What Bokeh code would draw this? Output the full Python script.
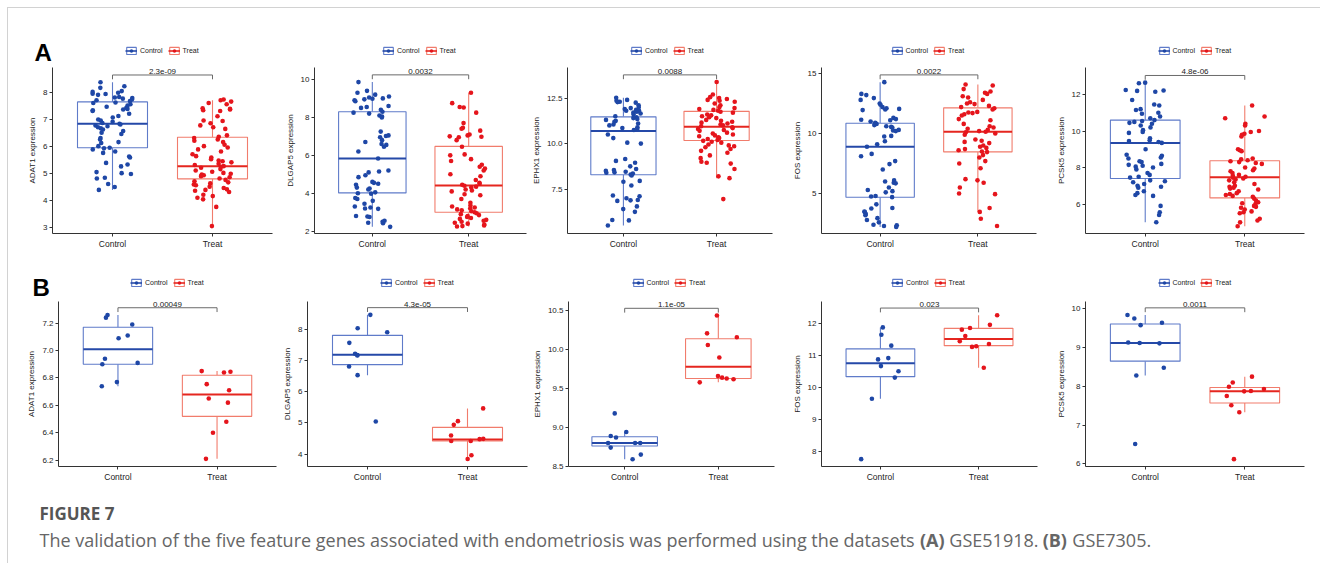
from bokeh.plotting import figure
from bokeh.models import (Range1d, FixedTicker, Legend, LegendItem, Label,
                          ColumnDataSource, PrintfTickFormatter, Spacer)
from bokeh.layouts import row, column
from bokeh.transform import jitter
from bokeh.core.properties import value
from bokeh.embed import file_html
from bokeh.resources import INLINE
import numpy as np

# ------------------------------------------------------------------ data
GENES = ["ADAT1", "DLGAP5", "EPHX1", "FOS", "PCSK5"]
GROUPS = ["Control", "Treat"]
PANEL_TAGS = ["A", "B"]

# ---- (A) GSE51918
A1_ctrl = [8.37, 8.22, 8.16, 8.04, 8.01, 7.98, 7.94, 7.93, 7.90, 7.82, 7.80, 7.78, 7.76, 7.73, 7.70,
           7.67, 7.62, 7.60, 7.55, 7.50, 7.46, 7.42, 7.38, 7.36, 7.33, 7.30, 7.20, 7.12, 7.06, 6.99,
           6.95, 6.90, 6.86, 6.83, 6.80, 6.77, 6.74, 6.70, 6.66, 6.62, 6.56, 6.50, 6.45, 6.30, 6.25,
           6.15, 6.12, 6.00, 5.94, 5.92, 5.88, 5.80, 5.75, 5.62, 5.58, 5.38, 5.32, 5.25, 5.04, 5.00,
           4.97, 4.83, 4.80, 4.60, 4.49, 4.38]
A1_treat = [7.73, 7.70, 7.65, 7.60, 7.55, 7.40, 7.38, 7.36, 7.33, 7.30, 7.11, 6.95, 6.93, 6.85, 6.77,
            6.70, 6.64, 6.40, 6.35, 6.30, 6.25, 6.20, 6.15, 6.05, 6.00, 5.95, 5.88, 5.80, 5.70, 5.63,
            5.58, 5.52, 5.47, 5.44, 5.40, 5.35, 5.30, 5.26, 5.24, 5.20, 5.15, 5.10, 5.05, 5.01, 4.98,
            4.95, 4.92, 4.89, 4.85, 4.80, 4.75, 4.70, 4.66, 4.62, 4.58, 4.55, 4.50, 4.45, 4.40, 4.38,
            4.35, 4.30, 4.20, 4.15, 4.09, 4.03, 3.75, 3.04]
A2_ctrl = [9.86, 9.40, 9.30, 9.20, 9.10, 9.05, 9.00, 8.98, 8.95, 8.90, 8.85, 8.60, 8.55, 8.50, 8.40,
           8.30, 8.25, 8.20, 8.10, 8.05, 8.00, 7.25, 7.05, 7.02, 6.95, 6.80, 6.70, 6.60, 6.55, 6.45,
           6.20, 5.83, 5.20, 5.15, 5.10, 4.95, 4.85, 4.60, 4.55, 4.50, 4.45, 4.30, 4.25, 4.20, 4.05,
           4.00, 3.98, 3.75, 3.70, 3.60, 3.45, 3.30, 3.25, 3.20, 3.18, 2.80, 2.78, 2.75, 2.55, 2.50,
           2.45, 2.42, 2.23]
A2_treat = [9.30, 8.75, 8.55, 8.52, 8.25, 7.70, 7.45, 7.40, 7.30, 7.10, 7.05, 7.00, 6.98, 6.95, 6.80,
            6.45, 6.05, 6.00, 5.80, 5.70, 5.50, 5.40, 5.30, 5.20, 5.00, 4.90, 4.70, 4.55, 4.50, 4.45,
            4.40, 4.35, 4.30, 4.20, 4.15, 4.10, 3.95, 3.90, 3.70, 3.50, 3.35, 3.30, 3.25, 3.20, 3.15,
            3.10, 3.05, 3.00, 2.95, 2.90, 2.85, 2.80, 2.75, 2.70, 2.65, 2.60, 2.55, 2.50, 2.45, 2.40,
            2.35, 2.30, 2.27, 2.25]
A3_ctrl = [12.52, 12.40, 12.35, 12.30, 12.28, 12.25, 12.10, 12.00, 11.95, 11.90, 11.85, 11.80, 11.80,
           11.75, 11.70, 11.65, 11.60, 11.50, 11.45, 11.40, 11.35, 11.30, 11.25, 11.20, 11.10, 11.05,
           11.00, 10.90, 10.85, 10.80, 10.75, 10.50, 10.30, 10.05, 10.00, 9.15, 9.05, 8.95, 8.75, 8.60,
           8.55, 8.50, 8.45, 8.42, 8.40, 8.35, 8.30, 8.25, 7.95, 7.90, 7.70, 7.15, 7.10, 7.00, 6.90,
           6.88, 6.85, 6.55, 6.40, 6.25, 5.80, 5.78, 5.50]
A3_treat = [13.38, 12.70, 12.55, 12.50, 12.45, 12.40, 12.35, 12.30, 12.20, 12.10, 12.00, 11.95, 11.90,
            11.85, 11.80, 11.75, 11.70, 11.60, 11.55, 11.50, 11.45, 11.40, 11.30, 11.25, 11.20, 11.15,
            11.10, 11.05, 11.00, 10.95, 10.90, 10.85, 10.80, 10.75, 10.70, 10.60, 10.55, 10.50, 10.45,
            10.40, 10.35, 10.30, 10.25, 10.20, 10.15, 10.10, 10.05, 9.95, 9.90, 9.85, 9.80, 9.70, 9.60,
            9.50, 9.35, 9.20, 9.00, 8.95, 8.90, 8.60, 8.20, 8.10, 6.95]
A4_ctrl = [14.28, 13.30, 13.20, 12.95, 12.80, 12.50, 12.40, 12.20, 12.10, 12.05, 12.00, 11.95, 11.30,
           11.20, 11.15, 11.10, 11.00, 10.90, 10.80, 10.70, 10.60, 10.55, 10.50, 10.30, 10.25, 10.20,
           9.80, 9.75, 9.35, 9.10, 8.90, 8.30, 8.10, 7.70, 7.45, 7.00, 6.10, 6.00, 5.90, 5.85, 5.50,
           5.30, 5.20, 5.10, 4.80, 4.75, 4.70, 4.10, 3.80, 3.75, 3.50, 3.45, 3.30, 3.20, 2.95, 2.80,
           2.60, 2.40, 2.35, 2.30, 2.22]
A4_treat = [14.08, 14.00, 13.70, 13.50, 13.40, 13.30, 13.10, 13.00, 12.80, 12.60, 12.50, 12.45, 12.30,
            12.20, 12.10, 12.00, 11.80, 11.75, 11.70, 11.60, 11.50, 11.20, 11.10, 10.80, 10.60, 10.50,
            10.40, 10.30, 10.20, 10.15, 10.10, 10.00, 9.90, 9.50, 9.40, 9.30, 9.20, 9.00, 8.90, 8.80,
            8.70, 8.60, 8.50, 8.45, 8.20, 8.00, 7.70, 7.50, 7.10, 6.20, 6.10, 5.90, 5.50, 5.00, 4.95,
            3.80, 3.47, 2.90, 2.30]
A5_ctrl = [12.65, 12.62, 12.25, 12.22, 12.20, 12.15, 11.70, 11.45, 11.40, 11.20, 11.15, 11.00, 10.95,
           10.80, 10.70, 10.60, 10.55, 10.50, 10.45, 10.40, 10.30, 10.20, 10.05, 9.95, 9.90, 9.60,
           9.50, 9.45, 9.40, 9.35, 9.00, 8.70, 8.65, 8.55, 8.50, 8.35, 8.30, 8.20, 8.15, 8.10, 8.05,
           8.00, 7.90, 7.70, 7.60, 7.50, 7.45, 7.30, 7.25, 7.20, 7.10, 7.00, 6.95, 6.90, 6.70, 6.60,
           6.50, 6.45, 5.90, 5.55, 5.40, 5.01]
A5_treat = [11.40, 10.80, 10.70, 10.40, 10.30, 10.00, 9.95, 9.85, 9.80, 9.70, 9.00, 8.95, 8.90, 8.50,
            8.45, 8.40, 8.35, 8.30, 8.25, 8.20, 8.00, 7.95, 7.85, 7.80, 7.70, 7.60, 7.55, 7.50, 7.45,
            7.40, 7.35, 7.30, 7.20, 7.10, 7.00, 6.95, 6.90, 6.85, 6.80, 6.70, 6.60, 6.55, 6.50, 6.45,
            6.40, 6.30, 6.20, 6.10, 6.05, 6.00, 5.90, 5.85, 5.80, 5.70, 5.60, 5.55, 5.50, 5.20, 5.10,
            5.00, 4.79]

# box statistics: [lower whisker, Q1, median, Q3, upper whisker]
A1_box_ctrl = [4.38, 5.94, 6.83, 7.64, 8.37]
A1_box_treat = [3.04, 4.79, 5.26, 6.33, 7.70]
A2_box_ctrl = [2.23, 4.02, 5.83, 8.30, 9.86]
A2_box_treat = [2.25, 3.00, 4.41, 6.47, 9.30]
A3_box_ctrl = [5.50, 8.29, 10.69, 11.47, 12.52]
A3_box_treat = [8.10, 10.17, 10.92, 11.77, 13.38]
A4_box_ctrl = [2.22, 4.69, 8.89, 10.86, 14.28]
A4_box_treat = [3.47, 8.47, 10.14, 12.14, 14.08]
A5_box_ctrl = [5.01, 7.40, 9.35, 10.60, 12.65]
A5_box_treat = [4.79, 6.34, 7.47, 8.37, 11.40]

A_PVALUES = ["2.3e-09", "0.0032", "0.0088", "0.0022", "4.8e-06"]

# ---- (B) GSE7305
B1_ctrl = [7.26, 7.24, 7.19, 7.11, 7.09, 6.94, 6.91, 6.90, 6.77, 6.74]
B1_treat = [6.85, 6.845, 6.84, 6.755, 6.71, 6.65, 6.62, 6.48, 6.40, 6.21]
B2_ctrl = [8.48, 8.05, 7.92, 7.58, 7.23, 7.19, 7.17, 6.82, 6.54, 5.05]
B2_treat = [5.47, 5.06, 4.94, 4.60, 4.49, 4.48, 4.42, 4.42, 3.96, 3.84]
B3_ctrl = [9.18, 8.94, 8.89, 8.87, 8.80, 8.80, 8.80, 8.74, 8.65, 8.59]
B3_treat = [10.44, 10.21, 10.16, 10.06, 9.90, 9.66, 9.64, 9.63, 9.62, 9.58]
B4_ctrl = [11.88, 11.65, 11.31, 10.92, 10.88, 10.67, 10.51, 10.31, 9.65, 7.76]
B4_treat = [12.26, 11.96, 11.86, 11.81, 11.61, 11.45, 11.36, 11.29, 11.27, 10.62]
B5_ctrl = [9.84, 9.75, 9.64, 9.58, 9.13, 9.12, 9.11, 8.48, 8.28, 6.51]
B5_treat = [8.25, 8.10, 7.99, 7.93, 7.88, 7.87, 7.75, 7.51, 7.33, 6.12]

B1_box_ctrl = [6.74, 6.90, 7.01, 7.17, 7.26]
B1_box_treat = [6.21, 6.52, 6.68, 6.82, 6.85]
B2_box_ctrl = [6.54, 6.88, 7.20, 7.82, 8.48]
B2_box_treat = [3.84, 4.42, 4.47, 4.86, 5.47]
B3_box_ctrl = [8.59, 8.76, 8.80, 8.88, 8.94]
B3_box_treat = [9.58, 9.63, 9.78, 10.14, 10.44]
B4_box_ctrl = [9.65, 10.34, 10.76, 11.21, 11.88]
B4_box_treat = [10.62, 11.31, 11.52, 11.85, 12.26]
B5_box_ctrl = [8.28, 8.65, 9.12, 9.61, 9.84]
B5_box_treat = [7.33, 7.57, 7.87, 7.97, 8.25]

B_PVALUES = ["0.00049", "4.3e-05", "1.1e-05", "0.023", "0.0011"]

# y tick values and label formats
A_TICKS = [[3, 4, 5, 6, 7, 8], [2, 4, 6, 8, 10], [7.5, 10.0, 12.5], [5, 10, 15], [6, 8, 10, 12]]
A_TICK_FMT = ["%d", "%d", "%.1f", "%d", "%d"]
B_TICKS = [[6.2, 6.4, 6.6, 6.8, 7.0, 7.2], [4, 5, 6, 7, 8], [8.5, 9.0, 9.5, 10.0, 10.5],
           [8, 9, 10, 11, 12], [6, 7, 8, 9, 10]]
B_TICK_FMT = ["%.1f", "%d", "%.1f", "%d", "%d"]

CAPTION_HEAD = "FIGURE 7"
CAPTION_PARTS = ["The validation of the five feature genes associated with endometriosis was performed using the datasets ",
                 "(A)", " GSE51918. ", "(B)", " GSE7305."]

# ------------------------------------------------------------------ styles / layout
FONT = "Liberation Sans"
CTRL_PT, CTRL_BOX, CTRL_MED = "#1E47A6", "#5F7BC9", "#2549A8"
TREAT_PT, TREAT_BOX, TREAT_MED = "#E5151C", "#F17C6C", "#E5261F"
AXIS_COL = "#333333"
TEXT_COL = "#222222"
FULL_W = 1312

A_YRANGE = [(2.765, 8.914), (1.88, 10.63), (5.06, 14.18), (1.67, 15.5), (4.39, 13.48)]
B_YRANGE = [(6.154, 7.358), (3.60, 8.91), (8.497, 10.62), (7.53, 12.69), (5.93, 10.19)]
# (fig width, min_border_left, min_border_right)
A_GEOM = [(274, 44, 10), (246, 30, 2), (261, 34, 17), (260, 30, 13), (271, 36, 16)]
B_GEOM = [(271, 50, 3), (250, 28, 2), (260, 34, 15), (260, 30, 12), (271, 36, 16)]
# strip (legend band) height, panel height, panel top / bottom borders
A_STRIP, A_H, A_TOP, A_BOT = 58, 198, 1, 31
B_STRIP, B_H, B_TOP, B_BOT = 37, 193, 0, 28
A_LEG_CY, B_LEG_CY = 16, 18.3          # legend centre above strip bottom
A_TAG_XY, B_TAG_XY = (26, 14.5), (24, 14)
LEG_W, LEG_H = 74, 9

# approximate Open Sans advance widths (em) for placing caption pieces
_OS_REG = {" ": .26, "a": .556, "b": .613, "c": .476, "d": .613, "e": .561, "f": .339, "g": .548,
           "h": .614, "i": .253, "l": .253, "m": .930, "n": .614, "o": .604, "p": .613, "r": .408,
           "s": .477, "t": .353, "u": .614, "v": .501, "w": .778, "y": .502, "T": .544, "G": .706,
           "S": .55, "E": .541, ".": .266, "(": .297, ")": .297, "A": .633, "B": .648}
_OS_BOLD = {"(": .342, ")": .342, "A": .690, "B": .705}


def text_w(s, size, bold=False):
    tot = 0.0
    for ch in s:
        if ch.isdigit():
            tot += .572
        elif bold and ch in _OS_BOLD:
            tot += _OS_BOLD[ch]
        else:
            tot += _OS_REG.get(ch, .55)
    return tot * size


def blank_fig(w, h):
    f = figure(width=w, height=h, output_backend="svg", toolbar_location=None,
               x_range=Range1d(0, w), y_range=Range1d(0, h), min_border=0,
               x_axis_type=None, y_axis_type=None)
    f.outline_line_color = None
    f.xgrid.visible = False
    f.ygrid.visible = False
    f.border_fill_color = "white"
    f.background_fill_color = "white"
    return f


def make_strip(h, geoms, leg_cy, tag, tag_xy):
    s = blank_fig(FULL_W, h)
    keys = []
    nan = [float("nan")]
    for cbox, cmed, cpt in [(CTRL_BOX, CTRL_MED, CTRL_PT), (TREAT_BOX, TREAT_MED, TREAT_PT)]:
        # legend-key glyphs only (no visible marks: NaN coordinates)
        q = s.quad(left=nan, right=nan, bottom=nan, top=nan, fill_color="white",
                   line_color=cbox, line_width=1.1)
        m = s.segment(x0=nan, x1=nan, y0=nan, y1=nan, line_color=cmed, line_width=1.6)
        d = s.scatter(x=nan, y=nan, size=4, fill_color=cpt, line_color=None)
        keys.append([q, m, d])
    x0 = 0
    for (w, bl, br) in geoms:
        fw = w - bl - br
        cx = x0 + bl + fw / 2
        leg = Legend(items=[LegendItem(label=GROUPS[0], renderers=keys[0]),
                            LegendItem(label=GROUPS[1], renderers=keys[1])],
                     orientation="horizontal",
                     location=(cx - LEG_W / 2, leg_cy - LEG_H / 2),
                     margin=0, padding=0, spacing=5, label_standoff=3,
                     glyph_width=12, glyph_height=LEG_H, label_height=LEG_H,
                     label_text_font=FONT, label_text_font_size="7px",
                     label_text_color=TEXT_COL, border_line_color=None,
                     background_fill_alpha=0)
        s.add_layout(leg)
        x0 += w
    s.add_layout(Label(x=tag_xy[0], y=tag_xy[1], text=tag, text_font=FONT,
                       text_font_style="bold", text_font_size="24px", text_color="black",
                       text_align="left", text_baseline="alphabetic"))
    return s


def make_panel(gene, ctrl, treat, box_c, box_t, pval, ticks, fmt, yr, geom,
               height, top, bottom):
    w, bl, br = geom
    p = figure(width=w, height=height, output_backend="svg", toolbar_location=None,
               x_range=Range1d(0.4, 2.6), y_range=Range1d(*yr),
               min_border_left=bl, min_border_right=br,
               min_border_top=top, min_border_bottom=bottom)
    p.xgrid.visible = False
    p.ygrid.visible = False
    p.outline_line_color = None
    p.background_fill_color = "white"
    p.border_fill_color = "white"

    for k, (vals, box, cpt, cbox, cmed) in enumerate([
            (ctrl, box_c, CTRL_PT, CTRL_BOX, CTRL_MED),
            (treat, box_t, TREAT_PT, TREAT_BOX, TREAT_MED)]):
        xc = k + 1
        p.segment(x0=[xc, xc], x1=[xc, xc], y0=[box[3], box[1]], y1=[box[4], box[0]],
                  line_color=cbox, line_width=1.1)
        p.quad(left=[xc - 0.35], right=[xc + 0.35], bottom=[box[1]], top=[box[3]],
               fill_color="white", line_color=cbox, line_width=1.1)
        p.segment(x0=[xc - 0.35], x1=[xc + 0.35], y0=[box[2]], y1=[box[2]],
                  line_color=cmed, line_width=2)
        src = ColumnDataSource(dict(x=[xc] * len(vals), y=vals))
        p.scatter(x=jitter("x", width=0.4, distribution="uniform"), y="y", source=src,
                  size=4.6, fill_color=cpt, line_color=None)

    allv = np.array(list(ctrl) + list(treat))
    vmax, vmin = allv.max(), allv.min()
    yb = vmax + 0.05 * (vmax - vmin)
    tip = 0.03 * (vmax - vmin)
    p.line(x=[1, 1, 2, 2], y=[yb - tip, yb, yb, yb - tip], line_color="#6a6a6a", line_width=1)
    p.text(x=[1.5], y=[yb], text=[pval], text_align="center", text_baseline="bottom",
           y_offset=-1, text_font=value(FONT), text_font_size="8px", text_color=TEXT_COL)

    for ax in (p.xaxis[0], p.yaxis[0]):
        ax.axis_line_color = AXIS_COL
        ax.axis_line_width = 1
        ax.major_tick_line_color = AXIS_COL
        ax.major_tick_out = 3
        ax.major_tick_in = 0
        ax.minor_tick_line_color = None
        ax.major_label_text_font = FONT
        ax.major_label_text_font_size = "8px"
        ax.major_label_text_color = TEXT_COL
        ax.major_label_standoff = 2
        ax.axis_label_text_font = FONT
        ax.axis_label_text_font_size = "8px"
        ax.axis_label_text_font_style = "normal"
        ax.axis_label_text_color = TEXT_COL
    p.xaxis.ticker = FixedTicker(ticks=[1, 2])
    p.xaxis.major_label_overrides = {1: GROUPS[0], 2: GROUPS[1]}
    p.xaxis.major_label_text_font_size = "8.5px"
    p.yaxis.ticker = FixedTicker(ticks=ticks)
    p.yaxis.formatter = PrintfTickFormatter(format=fmt)
    p.yaxis.axis_label = f"{gene} expression"
    p.yaxis.axis_label_standoff = 3
    return p


A_CTRL = [A1_ctrl, A2_ctrl, A3_ctrl, A4_ctrl, A5_ctrl]
A_TREAT = [A1_treat, A2_treat, A3_treat, A4_treat, A5_treat]
A_BOXC = [A1_box_ctrl, A2_box_ctrl, A3_box_ctrl, A4_box_ctrl, A5_box_ctrl]
A_BOXT = [A1_box_treat, A2_box_treat, A3_box_treat, A4_box_treat, A5_box_treat]
B_CTRL = [B1_ctrl, B2_ctrl, B3_ctrl, B4_ctrl, B5_ctrl]
B_TREAT = [B1_treat, B2_treat, B3_treat, B4_treat, B5_treat]
B_BOXC = [B1_box_ctrl, B2_box_ctrl, B3_box_ctrl, B4_box_ctrl, B5_box_ctrl]
B_BOXT = [B1_box_treat, B2_box_treat, B3_box_treat, B4_box_treat, B5_box_treat]

top_panels = [make_panel(GENES[i], A_CTRL[i], A_TREAT[i], A_BOXC[i], A_BOXT[i], A_PVALUES[i],
                         A_TICKS[i], A_TICK_FMT[i], A_YRANGE[i], A_GEOM[i], A_H, A_TOP, A_BOT)
              for i in range(5)]
bot_panels = [make_panel(GENES[i], B_CTRL[i], B_TREAT[i], B_BOXC[i], B_BOXT[i], B_PVALUES[i],
                         B_TICKS[i], B_TICK_FMT[i], B_YRANGE[i], B_GEOM[i], B_H, B_TOP, B_BOT)
              for i in range(5)]
top_strip = make_strip(A_STRIP, A_GEOM, A_LEG_CY, PANEL_TAGS[0], A_TAG_XY)
bot_strip = make_strip(B_STRIP, B_GEOM, B_LEG_CY, PANEL_TAGS[1], B_TAG_XY)

# caption
cap = blank_fig(FULL_W, 69)
CAP_FONT = "Open Sans"
CAP_SIZE = 18
cap.add_layout(Label(x=31, y=50, text=CAPTION_HEAD, text_font=CAP_FONT, text_font_style="bold",
                     text_font_size="17px", text_color="#555555", text_baseline="alphabetic"))
xx = 31.0
for txt in CAPTION_PARTS:
    bold = txt.startswith("(")
    lead = len(txt) - len(txt.lstrip(" "))
    xx += text_w(" " * lead, CAP_SIZE)
    core = txt.strip(" ")
    cap.add_layout(Label(x=xx, y=24, text=core, text_font=CAP_FONT,
                         text_font_size=f"{CAP_SIZE}px", text_color="#666666",
                         text_font_style="bold" if bold else "normal",
                         text_baseline="alphabetic"))
    xx += text_w(core, CAP_SIZE, bold)
    trail = len(txt) - len(txt.rstrip(" "))
    xx += text_w(" " * trail, CAP_SIZE)

top_line = Spacer(width=FULL_W, height=1, styles={"background-color": "#d2d2d2"})
left_line = Spacer(width=1, height=556, styles={"background-color": "#d2d2d2"})

body = column(top_line, top_strip, row(*top_panels), bot_strip, row(*bot_panels), cap)
layout = column(Spacer(width=10, height=7),
                row(Spacer(width=7, height=10), left_line, body))

with open("out.html", "w") as f:
    f.write(file_html(layout, INLINE))
